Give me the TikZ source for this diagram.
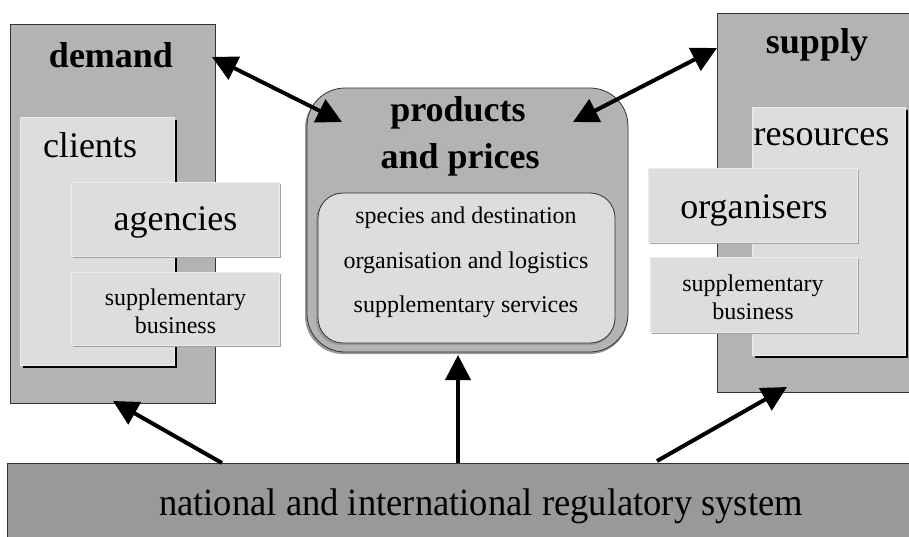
\documentclass[tikz,border=0pt]{standalone}
\usepackage{fontspec}
\setmainfont{Liberation Serif}
\usetikzlibrary{arrows.meta}
\definecolor{midgray}{HTML}{B3B3B3}
\definecolor{lightgray2}{HTML}{DDDDDD}
\definecolor{darkgray2}{HTML}{999999}
\definecolor{edgegray}{HTML}{333333}
\tikzset{
  outerbox/.style={draw=edgegray, line width=0.8pt, fill=midgray},
  lightbox/.style={draw=white!92!black, line width=0.8pt, fill=lightgray2},
  softshadow/.style={fill=gray!75},
  hardshadow/.style={fill=black},
  bigbold/.style={font=\fontsize{36}{40}\selectfont\bfseries, anchor=base, inner sep=0pt},
  bigtxt/.style={font=\fontsize{36}{40}\selectfont, anchor=base, inner sep=0pt},
  smalltxt/.style={font=\fontsize{24}{28}\selectfont, anchor=base, inner sep=0pt},
  bigarrow/.style={line width=4pt, -{Triangle[length=25pt,width=25pt]}},
  dblarrow/.style={line width=4pt, {Triangle[length=25pt,width=25pt]}-{Triangle[length=25pt,width=25pt]}},
}
\begin{document}
\begin{tikzpicture}[x=1pt,y=-1pt]
\useasboundingbox (0,0) rectangle (909,536);
\fill[white] (0,0) rectangle (909,536);

% demand
\draw[outerbox] (10,24) rectangle (215,403);
\node[bigbold] (demandT) at (111,67) {demand};
\fill[hardshadow] (23,120) rectangle (177,368);
\draw[lightbox] (20,117) rectangle (174,365);
\node[bigtxt] (clientsT) at (90,157) {clients};
\fill[softshadow] (73,184) rectangle (281,258);
\draw[lightbox] (71,182) rectangle (279,256);
\node[bigtxt] (agenciesT) at (175.5,230) {agencies};
\fill[softshadow] (73,274) rectangle (281,347);
\draw[lightbox] (71,272) rectangle (279,345);
\node[smalltxt] (supL1) at (175.5,305) {supplementary};
\node[smalltxt] (supL2) at (175.5,333) {business};

% products
\fill[gray!80, rounded corners=38pt] (305,90) rectangle (628,354);
\draw[outerbox, rounded corners=38pt] (307,88) rectangle (628,352);
\node[bigbold] (prodT1) at (458,121) {products};
\node[bigbold] (prodT2) at (460,168) {and prices};
\fill[gray!80, rounded corners=25pt] (316,195) rectangle (615,345);
\draw[draw=edgegray, line width=0.8pt, fill=lightgray2, rounded corners=25pt] (318,193) rectangle (615,343);
\node[smalltxt] (p1) at (466,223) {species and destination};
\node[smalltxt] (p2) at (466,268) {organisation and logistics};
\node[smalltxt] (p3) at (466,312) {supplementary services};

% supply
\draw[outerbox] (717,13) rectangle (915,392);
\node[bigbold] (supplyT) at (817,53) {supply};
\fill[hardshadow] (755,110) rectangle (908,358);
\draw[lightbox] (752,107) rectangle (905,355);
\node[bigtxt] (resT) at (821.5,145) {resources};
\fill[softshadow] (650,170) rectangle (859,244);
\draw[lightbox] (648,168) rectangle (857,242);
\node[bigtxt] (orgT) at (754,218) {organisers};
\fill[softshadow] (652,259) rectangle (859,334);
\draw[lightbox] (650,257) rectangle (857,332);
\node[smalltxt] (supR1) at (753,291) {supplementary};
\node[smalltxt] (supR2) at (753,319) {business};

% regulatory
\draw[draw=edgegray, line width=0.8pt, fill=darkgray2] (7,463) rectangle (915,545);
\node[font=\fontsize{38.5}{42}\selectfont, anchor=base, inner sep=0pt, xscale=0.95] (regT) at (481,515) {national and international regulatory system};

% arrow end points
\coordinate (dTip) at (212,57);
\coordinate (pTipL) at (342,122);
\coordinate (pTipR) at (573,122);
\coordinate (sTip) at (717,48);
\coordinate (rTailL) at (222,463);
\coordinate (dTipB) at (113,401);
\coordinate (rTailM) at (458,463);
\coordinate (pTipB) at (458,355);
\coordinate (rTailR) at (657,461);
\coordinate (sTipB) at (787,387);

\draw[dblarrow] (dTip) -- (pTipL);
\draw[dblarrow] (pTipR) -- (sTip);
\draw[bigarrow] (rTailL) -- (dTipB);
\draw[bigarrow] (rTailM) -- (pTipB);
\draw[bigarrow] (rTailR) -- (sTipB);
\end{tikzpicture}
\end{document}
